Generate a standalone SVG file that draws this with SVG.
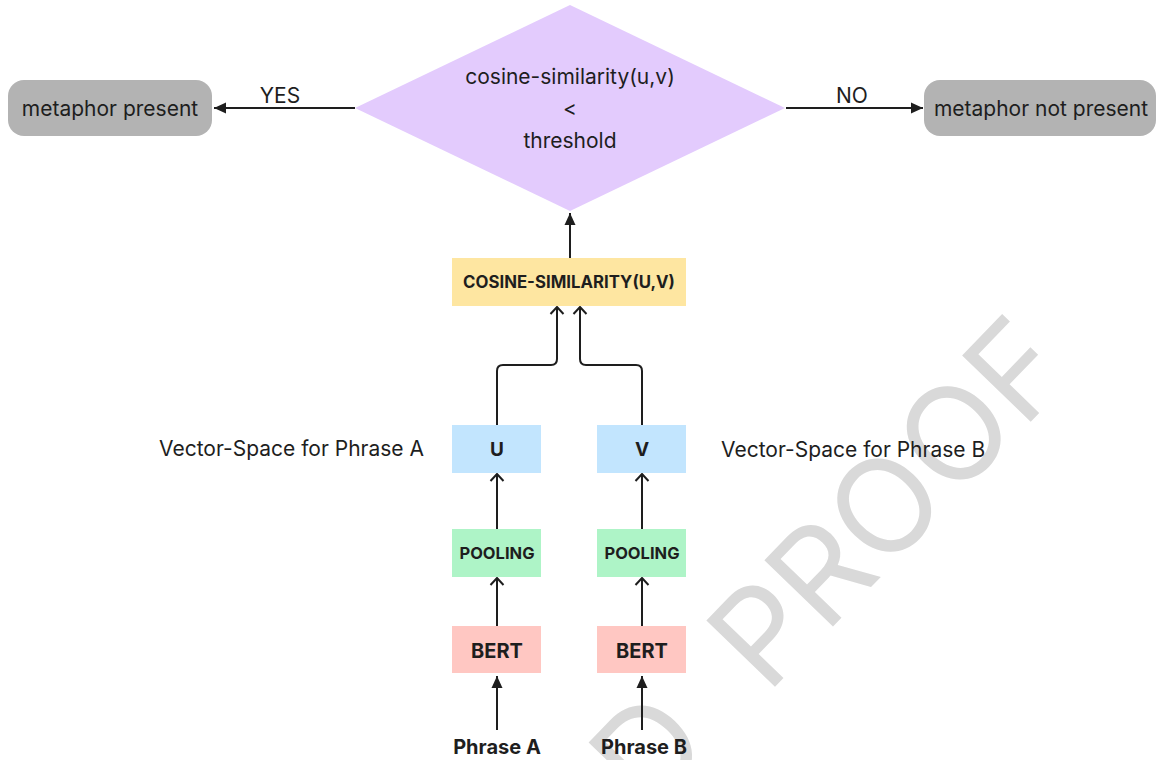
<svg xmlns="http://www.w3.org/2000/svg" width="1157" height="760" viewBox="0 0 1157 760">
<defs>
<style>
.t{font-family:Inter,"Liberation Sans",sans-serif;fill:#1e1e1e;text-anchor:middle}
.r{font-size:21px;font-weight:400}
.b{font-weight:700}
.c{fill:none;stroke:#1e1e1e;stroke-width:2}
.wm{font-family:Inter,"Liberation Sans",sans-serif;font-size:131px;fill:#d9d9d9}
</style>
<marker id="tri" viewBox="0 0 12 12" refX="12" refY="6" markerWidth="12" markerHeight="12" markerUnits="userSpaceOnUse" orient="auto">
<path d="M0,0.5 L12,6 L0,11.5 z" fill="#1e1e1e"/>
</marker>
<marker id="chev" viewBox="0 0 10 14" refX="8.5" refY="7" markerWidth="10" markerHeight="14" markerUnits="userSpaceOnUse" orient="auto" overflow="visible">
<path d="M1.5,0.5 L8.5,7 L1.5,13.5" fill="none" stroke="#1e1e1e" stroke-width="2"/>
</marker>
</defs>
<rect width="1157" height="760" fill="#ffffff"/>
<g id="watermark">
<text class="wm" transform="translate(767,695) rotate(-46)">PROOF</text>
<text class="wm" transform="translate(767,695) rotate(-46)" x="-75" text-anchor="end">D</text>
</g>
<g id="connectors">
<path class="c" d="M355,108 H214" marker-end="url(#tri)"/>
<path class="c" d="M786,108 H923" marker-end="url(#tri)"/>
<path class="c" d="M570,258 V213" marker-end="url(#tri)"/>
<path class="c" d="M497,425 V371 Q497,365 503,365 H551 Q557,365 557,359 V307" marker-end="url(#chev)"/>
<path class="c" d="M642,425 V371 Q642,365 636,365 H586 Q580,365 580,359 V307" marker-end="url(#chev)"/>
<path class="c" d="M497,529 V474" marker-end="url(#chev)"/>
<path class="c" d="M642,529 V474" marker-end="url(#chev)"/>
<path class="c" d="M497,626 V578" marker-end="url(#chev)"/>
<path class="c" d="M642,626 V578" marker-end="url(#chev)"/>
<path class="c" d="M497,730 V676" marker-end="url(#tri)"/>
<path class="c" d="M642,730 V676" marker-end="url(#tri)"/>
<text class="t r" x="280" y="103">YES</text>
<text class="t r" x="852" y="103">NO</text>
</g>
<g id="metaphor-present">
<rect x="8" y="80" width="204" height="56" rx="16" fill="#b3b3b3"/>
<text class="t r" x="110" y="116">metaphor present</text>
</g>
<g id="metaphor-not-present">
<rect x="924" y="80" width="232" height="56" rx="16" fill="#b3b3b3"/>
<text class="t r" x="1041" y="116">metaphor not present</text>
</g>
<g id="decision">
<polygon points="570,5 785,108 570,211 355,108" fill="#e3cbfd"/>
<text class="t r" x="570" y="84">cosine-similarity(u,v)</text>
<text class="t r" x="570" y="116">&lt;</text>
<text class="t r" x="570" y="148">threshold</text>
</g>
<g id="cosine">
<rect x="452" y="258" width="234" height="48" fill="#fee6a1"/>
<text class="t b" x="569" y="288" font-size="16.8">COSINE-SIMILARITY(U,V)</text>
</g>
<g id="u">
<rect x="452" y="425" width="89" height="48" fill="#c2e5fe"/>
<text class="t b" x="497" y="456" font-size="19">U</text>
</g>
<g id="v">
<rect x="597" y="425" width="89" height="48" fill="#c2e5fe"/>
<text class="t b" x="642" y="456" font-size="19">V</text>
</g>
<g id="pooling-a">
<rect x="452" y="529" width="89" height="48" fill="#aef4c7"/>
<text class="t b" x="497" y="559" font-size="16.5">POOLING</text>
</g>
<g id="pooling-b">
<rect x="597" y="529" width="89" height="48" fill="#aef4c7"/>
<text class="t b" x="642" y="559" font-size="16.5">POOLING</text>
</g>
<g id="bert-a">
<rect x="452" y="626" width="89" height="47" fill="#ffc7c2"/>
<text class="t b" x="497" y="658" font-size="20">BERT</text>
</g>
<g id="bert-b">
<rect x="597" y="626" width="89" height="47" fill="#ffc7c2"/>
<text class="t b" x="642" y="658" font-size="20">BERT</text>
</g>
<g id="phrase-a">
<text class="t b" x="497" y="754" font-size="20">Phrase A</text>
</g>
<g id="phrase-b">
<text class="t b" x="644" y="754" font-size="20">Phrase B</text>
</g>
<g id="label-a">
<text class="t r" x="424" y="456" style="text-anchor:end">Vector-Space for Phrase A</text>
</g>
<g id="label-b">
<text class="t r" x="721" y="457" style="text-anchor:start">Vector-Space for Phrase B</text>
</g>
</svg>
